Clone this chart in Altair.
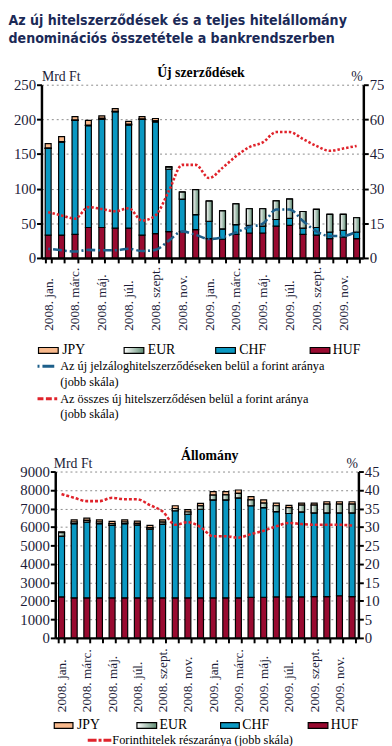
import json
import altair as alt
import pandas as pd

# ---------------- data ----------------
months = ["jan.", "febr.", "márc.", "ápr.", "máj.", "jún.", "júl.", "aug.", "szept.", "okt.", "nov.", "dec."]
years = ["2008.", "2009."]
periods = [f"{y} {m}" for y in years for m in months]
shown_periods = periods[::2]

stack_order = ["HUF", "CHF", "EUR", "JPY"]
legend_order = ["JPY", "EUR", "CHF", "HUF"]

# Új szerződések (Mrd Ft)
new_huf = [33, 33, 34, 44, 44, 43, 43, 33, 35, 38, 38, 41, 28, 27, 34, 36, 36, 46, 47, 34, 33, 28, 30, 28]
new_chf = [125, 134.5, 164.5, 147, 156, 168, 149, 167, 161.5, 90, 47, 21.5, 25, 15, 14, 11, 10, 9.5, 10, 9, 11, 9.5, 10, 9.5]
new_eur = [0.5, 0.5, 0.5, 0.5, 1.5, 0.5, 1, 0.5, 1.5, 3, 10, 36, 29, 26, 30, 24, 25, 27, 28, 24, 26, 25.5, 23, 20.5]
new_jpy = [6.5, 7, 5, 7, 3.5, 4, 4, 3.5, 3.3, 1, 0, 0, 0, 0, 0, 0, 0, 0, 0, 0, 0, 0, 0, 0]
# forint shares (%), right scale
mortgage_huf_share = [4, 3.3, 2.8, 3.5, 3.3, 3.3, 4, 3, 3.5, 7.5, 11.5, 10, 8.2, 9, 11, 13.4, 14.8, 21, 21, 16, 11.5, 9.5, 9.5, 11.5]
all_new_huf_share = [19.8, 18.4, 17, 22, 21.2, 20.2, 21.5, 16.2, 18.4, 29, 40.3, 40.3, 34.6, 39, 44, 48, 50, 54.5, 54.5, 51.5, 48.5, 46.4, 47.4, 48.5]

# Állomány (Mrd Ft)
stock_huf = [2220, 2170, 2170, 2170, 2170, 2170, 2170, 2170, 2170, 2170, 2170, 2170, 2170, 2170, 2170, 2190, 2200, 2220, 2220, 2220, 2230, 2230, 2280, 2230]
stock_chf = [3290, 4010, 4100, 4010, 3920, 4010, 3940, 3710, 3990, 4710, 4520, 4790, 5300, 5300, 5405, 4960, 4845, 4615, 4510, 4595, 4535, 4535, 4485, 4535]
stock_eur = [180, 90, 90, 90, 90, 90, 90, 90, 100, 120, 120, 180, 250, 265, 245, 320, 250, 315, 315, 370, 420, 475, 475, 475]
stock_jpy = [50, 120, 120, 120, 120, 120, 120, 120, 130, 150, 130, 135, 190, 175, 180, 175, 175, 140, 125, 105, 105, 125, 125, 125]
stock_huf_share = [38.9, 37.9, 37.0, 37.0, 37.9, 37.5, 37.5, 35.9, 34.2, 30.6, 31.3, 30.0, 27.5, 27.5, 27.1, 28.1, 29.0, 30.2, 31.1, 30.8, 30.6, 30.6, 30.6, 30.4]

title_lines = ["Az új hitelszerződések és a teljes hitelállomány", "denominációs összetétele a bankrendszerben"]
top_subtitle = "Új szerződések"
bottom_subtitle = "Állomány"
unit_left = "Mrd Ft"
unit_right = "%"
top_line_labels = [["Az új jelzáloghitelszerződéseken belül a forint aránya", "(jobb skála)"],
                   ["Az összes új hitelszerződésen belül a forint aránya", "(jobb skála)"]]
bottom_line_label = "Forinthitelek részaránya (jobb skála)"

# ---------------- styling ----------------
SERIF = "Liberation Serif"
TITLE_FONT = "'Liberation Sans Narrow', 'DejaVu Sans Condensed', 'Liberation Sans', sans-serif"
COLORS = {"JPY": "#f8b98c", "EUR": "#dfe8e2", "CHF": "#0a98c2", "HUF": "#990a30"}
EUR_GRAD = alt.Gradient(gradient="linear",
                        stops=[alt.GradientStop(color="#ffffff", offset=0),
                               alt.GradientStop(color="#5f8c73", offset=1)],
                        x1=0, x2=1, y1=0, y2=0)
BLUE = "#1d5f8a"
RED = "#e0232b"
LABEL_COLOR = "#1c1c38"

one = pd.DataFrame({"k": [0]})


def txt(s, x, y, size=12.5, align="left", weight="normal"):
    return alt.Chart(one).mark_text(text=s, align=align, baseline="middle", font=SERIF,
                                    fontSize=size, fontWeight=weight, color="black").encode(
        x=alt.value(x), y=alt.value(y))


def swatch(x1, x2, y1, y2, fill):
    return alt.Chart(one).mark_rect(fill=fill, stroke="black", strokeWidth=1.2).encode(
        x=alt.value(x1), x2=alt.value(x2), y=alt.value(y1), y2=alt.value(y2))


def seg(x1, x2, y, color, dash, width=3):
    return alt.Chart(one).mark_rule(color=color, strokeDash=dash, strokeWidth=width).encode(
        x=alt.value(x1), x2=alt.value(x2), y=alt.value(y))


def long_df(arrs):
    rows = []
    for i, p in enumerate(periods):
        for k, (cur, arr) in enumerate(zip(stack_order, arrs)):
            rows.append({"period": p, "currency": cur, "value": arr[i], "ord": k})
    return pd.DataFrame(rows)


shown_json = json.dumps(shown_periods, ensure_ascii=False)


def x_axis(pad):
    return alt.Axis(labelAngle=-90, labelAlign="left", labelBaseline="middle",
                    labelExpr=f"indexof({shown_json}, datum.value) >= 0 ? datum.value : ''",
                    tickBand="extent", labelPadding=pad, labelFont=SERIF, labelFontSize=13.5,
                    labelColor=LABEL_COLOR, labelOverlap=False, grid=False, domainColor="black",
                    domainWidth=2.5, tickColor="black", tickWidth=2, tickSize=5, title=None)


def left_axis(values, offset=0, titleX=0):
    return alt.Axis(values=values, orient="left", format="d", title=unit_left, titleAngle=0,
                    titleAlign="left", titleX=titleX, titleY=-4, titleBaseline="alphabetic",
                    titleFont=SERIF, titleFontSize=14, titleFontWeight="normal", titleColor=LABEL_COLOR,
                    labelFont=SERIF, labelFontSize=15, labelColor=LABEL_COLOR, labelPadding=1,
                    grid=True, gridDash=[2, 3], gridColor="#8a8a8a", gridWidth=1,
                    domainColor="black", domainWidth=2.5, tickColor="black", tickWidth=2, tickSize=5,
                    offset=offset)


def right_axis(values):
    return alt.Axis(values=values, orient="right", format="d", title=unit_right, titleAngle=0,
                    titleAlign="right", titleX=-1, titleY=-4, titleBaseline="alphabetic",
                    titleFont=SERIF, titleFontSize=14, titleFontWeight="normal", titleColor=LABEL_COLOR,
                    labelFont=SERIF, labelFontSize=15, labelColor=LABEL_COLOR, labelPadding=1,
                    grid=False, domainColor="black", domainWidth=2.5, tickColor="black",
                    tickWidth=2, tickSize=5)


def bars(df, xscale, xaxis, ydomain, yaxis):
    base = alt.Chart(df).transform_stack(stack="value", groupby=["period"], as_=["v0", "v1"],
                                         sort=[alt.SortField("ord", order="ascending")])
    x = alt.X("period:N", sort=periods, scale=xscale, axis=xaxis)
    ysc = alt.Scale(domain=ydomain, nice=False)
    main = base.mark_bar(stroke="black", strokeWidth=1.2).encode(
        x=x, y=alt.Y("v0:Q", scale=ysc, axis=yaxis), y2="v1:Q",
        color=alt.Color("currency:N", scale=alt.Scale(domain=stack_order,
                                                      range=[COLORS[c] for c in stack_order]), legend=None))
    eur = base.transform_filter(alt.datum.currency == "EUR").mark_bar(
        fill=EUR_GRAD, stroke="black", strokeWidth=1.2).encode(
        x=x, y=alt.Y("v0:Q", scale=ysc, axis=yaxis), y2="v1:Q")
    return alt.layer(main, eur)


def line(values, xscale, xaxis, ydomain, yaxis, color, dash, width=2.6):
    df = pd.DataFrame({"period": periods, "value": values})
    return alt.Chart(df).mark_line(color=color, strokeDash=dash, strokeWidth=width,
                                   interpolate="monotone").encode(
        x=alt.X("period:N", sort=periods, scale=xscale, axis=xaxis),
        y=alt.Y("value:Q", scale=alt.Scale(domain=ydomain, nice=False), axis=yaxis))


# ---------------- top panel ----------------
TW, TH = 327, 176
xs_top = alt.Scale(paddingInner=0.56, paddingOuter=0.28)
xa_top = x_axis(68.5)
top_bars = bars(long_df([new_huf, new_chf, new_eur, new_jpy]), xs_top, xa_top, [0, 250],
                left_axis(list(range(0, 251, 50))))
ra_top = right_axis(list(range(0, 76, 15)))
top_lines = alt.layer(
    line(mortgage_huf_share, xs_top, xa_top, [0, 75], ra_top, BLUE, [2, 3, 9, 3]),
    line(all_new_huf_share, xs_top, xa_top, [0, 75], ra_top, RED, [2.5, 2]),
)
ly = 270
top_legend = [
    swatch(-3, 17, ly - 3, ly + 3, COLORS["JPY"]), txt(legend_order[0], 21, ly, 14),
    swatch(84, 104, ly - 3, ly + 3, EUR_GRAD), txt(legend_order[1], 108, ly, 14),
    swatch(177, 197, ly - 3, ly + 3, COLORS["CHF"]), txt(legend_order[2], 201, ly, 14),
    swatch(273, 293, ly - 3, ly + 3, COLORS["HUF"]), txt(legend_order[3], 296, ly, 14),
    seg(-4, 16, 286, BLUE, [2, 3, 12, 3]), txt(top_line_labels[0][0], 19, 286),
    txt(top_line_labels[0][1], 19, 302),
    seg(-4, 16, 319, RED, [6, 2.5]), txt(top_line_labels[1][0], 19, 319),
    txt(top_line_labels[1][1], 19, 335),
]
top_panel = alt.layer(
    top_bars, top_lines,
    txt(top_subtitle, 162, -12, 14, align="center", weight="bold"),
    *top_legend,
).resolve_scale(y="independent").properties(width=TW, height=TH)

# ---------------- bottom panel ----------------
BW, BH = 322, 169
xs_bot = alt.Scale(range=[14, 322], paddingInner=0.53, paddingOuter=0.265)
xa_bot = x_axis(70)
bot_bars = bars(long_df([stock_huf, stock_chf, stock_eur, stock_jpy]), xs_bot, xa_bot, [0, 9000],
                left_axis(list(range(0, 9001, 1000)), offset=-14, titleX=-2))
ra_bot = right_axis(list(range(0, 46, 5)))
bot_line = line(stock_huf_share, xs_bot, xa_bot, [0, 45], ra_bot, RED, [3, 2])
by = 258
bot_legend = [
    swatch(13, 32, by - 3, by + 3, COLORS["JPY"]), txt(legend_order[0], 36, by, 14),
    swatch(97, 117, by - 3, by + 3, EUR_GRAD), txt(legend_order[1], 120, by, 14),
    swatch(182, 201, by - 3, by + 3, COLORS["CHF"]), txt(legend_order[2], 204, by, 14),
    swatch(271, 291, by - 3, by + 3, COLORS["HUF"]), txt(legend_order[3], 294, by, 14),
    seg(47, 71, 273, RED, [9, 2, 3, 2]), txt(bottom_line_label, 72, 273),
]
bottom_panel = alt.layer(
    bot_bars, bot_line,
    txt(bottom_subtitle, 171, -16, 14, align="center", weight="bold"),
    *bot_legend,
).resolve_scale(y="independent").properties(width=BW, height=BH)

chart = alt.vconcat(top_panel, bottom_panel, spacing=28).properties(
    padding=0,
    background="white",
    title=alt.TitleParams(title_lines, anchor="start", font=TITLE_FONT, fontSize=14.3,
                          fontWeight="bold", color="#1b2a57", lineHeight=18, offset=20, dx=-5),
).configure_view(stroke=None)

chart.save("out.html", embed_options={"renderer": "svg", "actions": False})
